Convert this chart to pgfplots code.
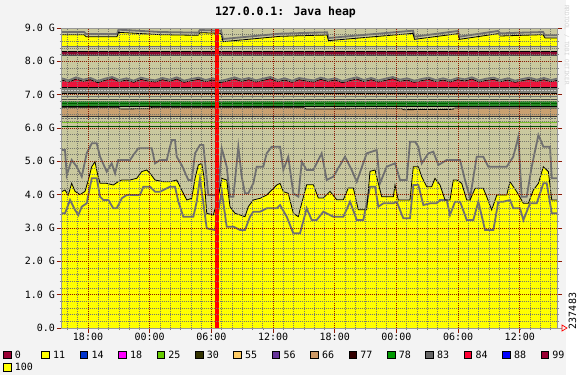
\documentclass[border=0pt]{standalone}
\usepackage{fontspec}
\setmainfont{DejaVu Sans Mono}
\usepackage{pgfplots}
\pgfplotsset{compat=1.18}
\definecolor{khaki}{RGB}{201,200,158}
\definecolor{bgc}{RGB}{243,243,243}
\definecolor{gline}{RGB}{112,112,112}
\definecolor{majgrid}{RGB}{140,25,5}
\definecolor{mingrid}{RGB}{120,120,110}
\definecolor{redband}{RGB}{235,20,60}
\definecolor{maroonb}{RGB}{140,10,50}
\definecolor{grayband}{RGB}{128,128,118}
\definecolor{greenband}{RGB}{40,140,40}
\definecolor{tanb}{RGB}{200,160,112}
\definecolor{limeb}{RGB}{120,190,40}
\definecolor{c0}{RGB}{153,0,51}
\definecolor{c11}{RGB}{255,255,0}
\definecolor{c14}{RGB}{0,51,204}
\definecolor{c18}{RGB}{255,0,255}
\definecolor{c25}{RGB}{102,204,0}
\definecolor{c30}{RGB}{51,51,0}
\definecolor{c55}{RGB}{255,204,102}
\definecolor{c56}{RGB}{102,51,153}
\definecolor{c66}{RGB}{204,153,102}
\definecolor{c77}{RGB}{51,0,0}
\definecolor{c78}{RGB}{0,153,0}
\definecolor{c83}{RGB}{102,102,102}
\definecolor{c84}{RGB}{255,0,51}
\definecolor{c88}{RGB}{0,0,255}
\definecolor{c99}{RGB}{153,0,51}
\definecolor{c100}{RGB}{255,255,0}
\newcommand{\lbl}[1]{\makebox[26.6pt][l]{#1}}
\begin{document}
\begin{tikzpicture}
\useasboundingbox (-61.7pt,-47pt) rectangle (523.3pt,328pt);
\fill[bgc] (-61.7pt,-47pt) rectangle (523.3pt,328pt);
\fill[white] (504.3pt,-47pt) rectangle (523.3pt,328pt);
\begin{axis}[
  at={(0pt,0pt)}, anchor=south west,
  scale only axis, width=495.3pt, height=300pt,
  xmin=-2.56, xmax=45.62, ymin=0, ymax=9,
  axis background/.style={fill=khaki},
  axis on top,
  axis line style={draw=gray!80, line width=0.5pt},
  xtick={0,6,12,18,24,30,36,42},
  xticklabels={18:00,00:00,06:00,12:00,18:00,00:00,06:00,12:00},
  minor xtick={-2,-1,...,45},
  ytick={0,1,2,3,4,5,6,7,8,9},
  yticklabels={0.0,1.0 G,2.0 G,3.0 G,4.0 G,5.0 G,6.0 G,7.0 G,8.0 G,9.0 G},
  minor ytick={0.2,0.4,...,8.9},
  grid=both,
  minor grid style={draw=mingrid, line width=0.6pt, dash pattern=on 1pt off 1pt},
  major grid style={draw=majgrid, line width=0.7pt, dash pattern=on 1pt off 1pt},
  tick align=outside,
  major tick length=5pt, minor tick length=2pt,
  major tick style={draw=majgrid, line width=0.8pt, solid},
  minor tick style={draw=gray, line width=0.5pt, solid},
  xtick pos=bottom, ytick pos=both, yticklabel pos=left,
  tick label style={font=\fontsize{10}{12}\selectfont, inner sep=0pt},
  yticklabel style={xshift=-1.5pt},
  legend style={at={(-0.1185,-0.075)}, anchor=north west, draw=none, fill=none,
    inner sep=0pt, outer sep=0pt, column sep=0pt, row sep=4.2pt,
    font=\fontsize{10}{12}\selectfont,
    nodes={inner sep=0pt, outer sep=0pt, text height=7.5pt, text depth=1pt}},
  legend columns=15,
  legend cell align=left,
  legend image code/.code={\draw[#1, draw=black, line width=0.6pt] (0pt,-3.6pt) rectangle (7.5pt,3.9pt); \path[draw=none, fill=none] (0pt,0pt) -- (11.5pt,0pt);},
]
% --- upper bands (painter order, each filled down to 0) ---
\addplot[fill=c11, draw=none, forget plot] coordinates {(-2.56,8.80)(-0.39,8.80)(-0.19,8.74)(2.82,8.74)(2.97,8.87)(7.00,8.80)(10.70,8.78)(10.89,8.86)(12.94,8.84)(13.13,8.59)(18.68,8.75)(23.25,8.79)(23.39,8.62)(31.61,8.84)(31.76,8.66)(35.99,8.83)(36.14,8.66)(39.88,8.83)(40.08,8.76)(44.26,8.80)(44.46,8.70)(45.62,8.70)} \closedcycle;
\addplot[fill=khaki, draw=none, forget plot] coordinates {(-2.56,8.445)(45.62,8.445)} \closedcycle;
\addplot[fill=maroonb, draw=none, forget plot] coordinates {(-2.56,8.31)(45.62,8.31)} \closedcycle;
\addplot[fill=khaki, draw=none, forget plot] coordinates {(-2.56,8.19)(45.62,8.19)} \closedcycle;
\addplot[fill=redband, draw=none, forget plot] coordinates {(-2.56,7.44)(-1.86,7.38)(-1.16,7.47)(-0.46,7.40)(0.24,7.45)(0.94,7.36)(1.64,7.43)(2.34,7.48)(3.04,7.39)(3.74,7.44)(4.44,7.37)(5.14,7.46)(5.84,7.41)(6.54,7.38)(7.24,7.45)(7.94,7.40)(8.64,7.47)(9.34,7.37)(10.04,7.42)(10.74,7.46)(11.44,7.39)(12.14,7.44)(12.84,7.36)(13.54,7.41)(14.24,7.47)(14.94,7.40)(15.64,7.45)(16.34,7.38)(17.04,7.43)(17.74,7.48)(18.44,7.39)(19.14,7.44)(19.84,7.37)(20.54,7.45)(21.24,7.41)(21.94,7.38)(22.64,7.46)(23.34,7.40)(24.04,7.44)(24.74,7.36)(25.44,7.42)(26.14,7.47)(26.84,7.39)(27.54,7.45)(28.24,7.38)(28.94,7.43)(29.64,7.48)(30.34,7.40)(31.04,7.44)(31.74,7.37)(32.44,7.42)(33.14,7.46)(33.84,7.39)(34.54,7.44)(35.24,7.38)(35.94,7.45)(36.64,7.41)(37.34,7.47)(38.04,7.38)(38.74,7.43)(39.44,7.46)(40.14,7.39)(40.84,7.44)(41.54,7.37)(42.24,7.42)(42.94,7.46)(43.64,7.40)(44.34,7.45)(45.04,7.39)(45.62,7.43)} \closedcycle;
\addplot[fill=grayband, draw=none, forget plot] coordinates {(-2.56,7.21)(45.62,7.21)} \closedcycle;
\addplot[fill=khaki, draw=none, forget plot] coordinates {(-2.56,7.04)(45.62,7.04)} \closedcycle;
\addplot[fill=greenband, draw=none, forget plot] coordinates {(-2.56,6.80)(45.62,6.80)} \closedcycle;
\addplot[fill=khaki, draw=none, forget plot] coordinates {(-2.56,6.655)(45.62,6.655)} \closedcycle;
\addplot[fill=tanb, draw=none, forget plot] coordinates {(-2.56,6.62)(3.0,6.62)(3.2,6.57)(6.0,6.58)(6.2,6.62)(21.0,6.62)(21.2,6.57)(30.5,6.58)(30.7,6.55)(35.5,6.56)(35.7,6.60)(45.62,6.60)} \closedcycle;
\addplot[fill=khaki, draw=none, forget plot] coordinates {(-2.56,6.35)(45.62,6.35)} \closedcycle;
% --- lower yellow area ---
\addplot[fill=c100, draw=none, forget plot] coordinates {(-2.56,4.09)(-2.24,4.14)(-1.92,3.99)(-1.59,4.34)(-1.26,4.10)(-0.78,4.00)(-0.29,4.10)(0.03,4.44)(0.36,4.84)(0.68,4.99)(0.91,4.64)(1.17,4.34)(1.82,4.34)(2.46,4.29)(2.95,4.39)(3.28,4.44)(4.09,4.44)(4.74,4.49)(5.22,4.69)(5.71,4.74)(6.03,4.64)(6.52,4.44)(7.33,4.39)(7.98,4.39)(8.63,4.44)(9.11,4.14)(9.60,3.84)(10.09,3.89)(10.41,4.49)(10.73,4.89)(11.06,4.94)(11.28,4.54)(11.55,3.44)(12.19,3.39)(12.68,3.94)(13.01,4.49)(13.49,4.44)(13.81,3.64)(14.30,3.44)(14.79,3.39)(15.27,3.34)(15.59,3.64)(16.08,3.84)(16.73,3.89)(17.38,3.99)(17.87,4.14)(18.36,4.29)(18.68,4.34)(19.00,4.09)(19.48,4.04)(19.97,3.44)(20.46,3.34)(20.62,3.55)(21.27,4.3)(21.92,4.3)(22.40,3.9)(22.89,3.9)(23.54,4.1)(24.19,3.85)(24.84,3.85)(25.32,4.2)(25.81,4.2)(26.29,3.55)(27.11,3.55)(27.43,4.7)(27.92,4.74)(28.24,4.34)(28.57,3.94)(29.70,3.94)(29.86,4.29)(30.18,3.84)(31.32,3.84)(31.64,4.84)(32.13,4.84)(32.46,4.54)(32.95,4.24)(33.43,4.24)(33.75,4.49)(34.24,4.29)(34.73,3.84)(35.21,3.84)(35.53,4.44)(35.87,4.44)(36.35,4.34)(36.84,3.84)(37.16,3.84)(37.65,4.19)(38.45,4.19)(38.78,3.94)(39.27,3.54)(39.76,3.99)(40.73,3.99)(41.05,4.39)(41.70,4.09)(42.35,3.74)(42.83,3.74)(43.32,4.14)(43.81,4.34)(44.29,4.84)(44.78,4.69)(45.11,3.84)(45.62,3.84)} \closedcycle;
% --- lines of the upper bands ---
\addplot[black, line width=0.8pt, forget plot] coordinates {(-2.56,8.98)(45.62,8.98)};
\addplot[gline, line width=1.8pt, forget plot] coordinates {(-2.56,8.88)(-0.39,8.88)(-0.19,8.82)(2.82,8.82)(2.97,8.95)(7.00,8.88)(10.70,8.86)(10.89,8.94)(12.94,8.92)(13.13,8.67)(18.68,8.83)(23.25,8.87)(23.39,8.70)(31.61,8.92)(31.76,8.74)(35.99,8.91)(36.14,8.74)(39.88,8.91)(40.08,8.84)(44.26,8.88)(44.46,8.78)(45.62,8.78)};
\addplot[black, line width=0.8pt, forget plot] coordinates {(-2.56,8.80)(-0.39,8.80)(-0.19,8.74)(2.82,8.74)(2.97,8.87)(7.00,8.80)(10.70,8.78)(10.89,8.86)(12.94,8.84)(13.13,8.59)(18.68,8.75)(23.25,8.79)(23.39,8.62)(31.61,8.84)(31.76,8.66)(35.99,8.83)(36.14,8.66)(39.88,8.83)(40.08,8.76)(44.26,8.80)(44.46,8.70)(45.62,8.70)};
\addplot[gline, line width=1.2pt, forget plot] coordinates {(-2.56,8.445)(45.62,8.445)};
\addplot[black, line width=0.8pt, forget plot] coordinates {(-2.56,8.31)(45.62,8.31)};
\addplot[black!70, line width=0.8pt, forget plot] coordinates {(-2.56,8.19)(45.62,8.19)};
\addplot[gline, line width=1.8pt, forget plot] coordinates {(-2.56,7.49)(-1.86,7.43)(-1.16,7.52)(-0.46,7.45)(0.24,7.50)(0.94,7.41)(1.64,7.48)(2.34,7.53)(3.04,7.44)(3.74,7.49)(4.44,7.42)(5.14,7.51)(5.84,7.46)(6.54,7.43)(7.24,7.50)(7.94,7.45)(8.64,7.52)(9.34,7.42)(10.04,7.47)(10.74,7.51)(11.44,7.44)(12.14,7.49)(12.84,7.41)(13.54,7.46)(14.24,7.52)(14.94,7.45)(15.64,7.50)(16.34,7.43)(17.04,7.48)(17.74,7.53)(18.44,7.44)(19.14,7.49)(19.84,7.42)(20.54,7.50)(21.24,7.46)(21.94,7.43)(22.64,7.51)(23.34,7.45)(24.04,7.49)(24.74,7.41)(25.44,7.47)(26.14,7.52)(26.84,7.44)(27.54,7.50)(28.24,7.43)(28.94,7.48)(29.64,7.53)(30.34,7.45)(31.04,7.49)(31.74,7.42)(32.44,7.47)(33.14,7.51)(33.84,7.44)(34.54,7.49)(35.24,7.43)(35.94,7.50)(36.64,7.46)(37.34,7.52)(38.04,7.43)(38.74,7.48)(39.44,7.51)(40.14,7.44)(40.84,7.49)(41.54,7.42)(42.24,7.47)(42.94,7.51)(43.64,7.45)(44.34,7.50)(45.04,7.44)(45.62,7.48)};
\addplot[black, line width=0.7pt, forget plot] coordinates {(-2.56,7.44)(-1.86,7.38)(-1.16,7.47)(-0.46,7.40)(0.24,7.45)(0.94,7.36)(1.64,7.43)(2.34,7.48)(3.04,7.39)(3.74,7.44)(4.44,7.37)(5.14,7.46)(5.84,7.41)(6.54,7.38)(7.24,7.45)(7.94,7.40)(8.64,7.47)(9.34,7.37)(10.04,7.42)(10.74,7.46)(11.44,7.39)(12.14,7.44)(12.84,7.36)(13.54,7.41)(14.24,7.47)(14.94,7.40)(15.64,7.45)(16.34,7.38)(17.04,7.43)(17.74,7.48)(18.44,7.39)(19.14,7.44)(19.84,7.37)(20.54,7.45)(21.24,7.41)(21.94,7.38)(22.64,7.46)(23.34,7.40)(24.04,7.44)(24.74,7.36)(25.44,7.42)(26.14,7.47)(26.84,7.39)(27.54,7.45)(28.24,7.38)(28.94,7.43)(29.64,7.48)(30.34,7.40)(31.04,7.44)(31.74,7.37)(32.44,7.42)(33.14,7.46)(33.84,7.39)(34.54,7.44)(35.24,7.38)(35.94,7.45)(36.64,7.41)(37.34,7.47)(38.04,7.38)(38.74,7.43)(39.44,7.46)(40.14,7.39)(40.84,7.44)(41.54,7.37)(42.24,7.42)(42.94,7.46)(43.64,7.40)(44.34,7.45)(45.04,7.39)(45.62,7.43)};
\addplot[black, line width=0.8pt, forget plot] coordinates {(-2.56,7.215)(45.62,7.215)};
\addplot[gray!40, line width=0.6pt, dash pattern=on 2pt off 1pt, forget plot] coordinates {(-2.56,7.125)(45.62,7.125)};
\addplot[black, line width=0.8pt, forget plot] coordinates {(-2.56,7.04)(45.62,7.04)};
\addplot[gline, line width=1.5pt, forget plot] coordinates {(-2.56,6.95)(45.62,6.95)};
\addplot[black!70, line width=0.8pt, forget plot] coordinates {(-2.56,6.86)(45.62,6.86)};
\addplot[green!35!black, line width=0.8pt, forget plot] coordinates {(-2.56,6.73)(45.62,6.73)};
\addplot[black, line width=0.8pt, forget plot] coordinates {(-2.56,6.655)(45.62,6.655)};
\addplot[black, line width=0.8pt, forget plot] coordinates {(-2.56,6.62)(3.0,6.62)(3.2,6.57)(6.0,6.58)(6.2,6.62)(21.0,6.62)(21.2,6.57)(30.5,6.58)(30.7,6.55)(35.5,6.56)(35.7,6.60)(45.62,6.60)};
\addplot[black!80, line width=0.8pt, forget plot] coordinates {(-2.56,6.35)(45.62,6.35)};
\addplot[gline, line width=0.8pt, dash pattern=on 2pt off 1pt, forget plot] coordinates {(-2.56,6.29)(45.62,6.29)};
\addplot[limeb, line width=1.6pt, forget plot] coordinates {(-2.56,6.16)(45.62,6.16)};
\addplot[green!30!black, line width=0.7pt, forget plot] coordinates {(-2.56,6.04)(45.62,6.04)};
% --- lower lines ---
\addplot[gline, line width=1.8pt, forget plot] coordinates {(-2.56,5.34)(-2.24,5.34)(-2.07,4.59)(-1.59,5.04)(-1.10,4.84)(-0.61,4.54)(-0.13,5.24)(0.36,5.54)(0.85,5.54)(1.17,5.14)(1.82,4.69)(2.30,4.94)(2.63,4.64)(2.95,5.04)(4.09,5.04)(4.41,5.19)(4.90,5.39)(6.20,5.39)(6.52,4.94)(7.00,5.04)(7.66,5.04)(8.14,5.64)(8.46,5.64)(8.63,5.14)(9.11,4.89)(9.76,4.44)(10.09,4.44)(10.41,5.24)(10.89,5.49)(11.22,5.49)(11.38,4.99)(11.70,3.99)(12.35,3.99)(12.68,4.09)(13.01,5.39)(13.49,4.84)(13.81,3.94)(14.14,3.94)(14.62,5.44)(14.95,4.54)(15.27,4.04)(15.59,4.04)(16.08,4.34)(16.41,4.84)(17.05,4.84)(17.38,5.24)(17.87,5.44)(18.68,5.44)(19.00,4.74)(19.48,5.14)(19.97,4.04)(20.46,3.94)(20.79,4.99)(21.27,4.74)(21.92,4.74)(22.73,5.24)(23.22,4.44)(23.86,4.54)(25.00,5.14)(25.65,4.74)(26.14,4.39)(27.11,5.24)(28.08,5.34)(28.40,4.34)(29.06,4.84)(29.86,4.94)(30.35,4.44)(31.00,4.44)(31.32,5.59)(31.81,5.59)(32.13,5.44)(32.46,4.94)(33.11,5.24)(33.59,5.29)(34.08,4.89)(34.89,5.04)(36.19,5.04)(36.67,4.44)(37.16,3.9)(37.81,5.14)(38.45,5.14)(38.94,4.84)(40.73,4.84)(41.37,5.14)(41.86,5.74)(42.18,3.94)(42.67,3.94)(43.16,4.84)(43.81,5.79)(44.29,5.44)(44.94,5.44)(45.11,4.49)(45.62,4.49)};
\addplot[gline, line width=1.8pt, forget plot] coordinates {(-2.56,3.44)(-2.24,3.44)(-1.75,3.84)(-1.26,3.54)(-0.94,3.39)(-0.61,3.64)(-0.13,3.74)(0.36,4.49)(0.85,4.49)(1.17,3.94)(1.49,3.84)(1.98,3.84)(2.46,3.59)(2.79,3.59)(3.28,3.89)(3.76,3.99)(5.06,3.99)(5.38,4.24)(6.03,4.24)(6.52,4.09)(7.00,4.09)(7.98,4.24)(8.46,4.24)(8.79,3.79)(9.27,3.34)(10.25,3.34)(10.57,3.79)(10.89,4.49)(11.22,3.74)(11.55,2.99)(12.35,2.94)(13.01,4.09)(13.49,3.04)(14.14,3.04)(14.79,2.94)(15.27,2.94)(15.76,3.34)(16.08,3.49)(16.73,3.49)(17.38,3.59)(18.36,3.59)(18.68,3.69)(19.33,3.34)(19.97,2.84)(20.62,2.84)(21.27,3.59)(21.76,3.24)(22.24,3.24)(22.89,3.49)(23.86,3.34)(24.84,3.34)(25.49,3.79)(26.14,3.24)(26.78,3.24)(27.43,4.24)(27.92,4.24)(28.24,3.64)(28.73,3.74)(29.70,3.74)(30.03,3.79)(30.67,3.29)(31.32,3.29)(31.64,4.29)(32.13,4.29)(32.62,3.69)(33.27,3.74)(33.92,3.74)(34.24,3.84)(34.89,3.84)(35.21,3.39)(35.70,3.79)(36.19,3.79)(36.84,3.24)(37.48,3.24)(37.97,3.79)(38.62,2.94)(39.43,2.94)(39.91,3.79)(40.40,3.79)(41.05,3.84)(41.37,3.59)(42.02,3.59)(42.35,3.24)(43.00,3.74)(43.65,3.74)(44.29,4.34)(44.62,4.34)(45.11,3.44)(45.62,3.44)};
\addplot[black, line width=0.8pt, forget plot] coordinates {(-2.56,4.09)(-2.24,4.14)(-1.92,3.99)(-1.59,4.34)(-1.26,4.10)(-0.78,4.00)(-0.29,4.10)(0.03,4.44)(0.36,4.84)(0.68,4.99)(0.91,4.64)(1.17,4.34)(1.82,4.34)(2.46,4.29)(2.95,4.39)(3.28,4.44)(4.09,4.44)(4.74,4.49)(5.22,4.69)(5.71,4.74)(6.03,4.64)(6.52,4.44)(7.33,4.39)(7.98,4.39)(8.63,4.44)(9.11,4.14)(9.60,3.84)(10.09,3.89)(10.41,4.49)(10.73,4.89)(11.06,4.94)(11.28,4.54)(11.55,3.44)(12.19,3.39)(12.68,3.94)(13.01,4.49)(13.49,4.44)(13.81,3.64)(14.30,3.44)(14.79,3.39)(15.27,3.34)(15.59,3.64)(16.08,3.84)(16.73,3.89)(17.38,3.99)(17.87,4.14)(18.36,4.29)(18.68,4.34)(19.00,4.09)(19.48,4.04)(19.97,3.44)(20.46,3.34)(20.62,3.55)(21.27,4.3)(21.92,4.3)(22.40,3.9)(22.89,3.9)(23.54,4.1)(24.19,3.85)(24.84,3.85)(25.32,4.2)(25.81,4.2)(26.29,3.55)(27.11,3.55)(27.43,4.7)(27.92,4.74)(28.24,4.34)(28.57,3.94)(29.70,3.94)(29.86,4.29)(30.18,3.84)(31.32,3.84)(31.64,4.84)(32.13,4.84)(32.46,4.54)(32.95,4.24)(33.43,4.24)(33.75,4.49)(34.24,4.29)(34.73,3.84)(35.21,3.84)(35.53,4.44)(35.87,4.44)(36.35,4.34)(36.84,3.84)(37.16,3.84)(37.65,4.19)(38.45,4.19)(38.78,3.94)(39.27,3.54)(39.76,3.99)(40.73,3.99)(41.05,4.39)(41.70,4.09)(42.35,3.74)(42.83,3.74)(43.32,4.14)(43.81,4.34)(44.29,4.84)(44.78,4.69)(45.11,3.84)(45.62,3.84)};
% --- red vertical marker ---
\addplot[red, line width=3.4pt, forget plot] coordinates {(12.55,0)(12.55,9)};
% --- legend ---
\addlegendimage{fill=c0}\addlegendentry{\lbl{0}}
\addlegendimage{fill=c11}\addlegendentry{\lbl{11}}
\addlegendimage{fill=c14}\addlegendentry{\lbl{14}}
\addlegendimage{fill=c18}\addlegendentry{\lbl{18}}
\addlegendimage{fill=c25}\addlegendentry{\lbl{25}}
\addlegendimage{fill=c30}\addlegendentry{\lbl{30}}
\addlegendimage{fill=c55}\addlegendentry{\lbl{55}}
\addlegendimage{fill=c56}\addlegendentry{\lbl{56}}
\addlegendimage{fill=c66}\addlegendentry{\lbl{66}}
\addlegendimage{fill=c77}\addlegendentry{\lbl{77}}
\addlegendimage{fill=c78}\addlegendentry{\lbl{78}}
\addlegendimage{fill=c83}\addlegendentry{\lbl{83}}
\addlegendimage{fill=c84}\addlegendentry{\lbl{84}}
\addlegendimage{fill=c88}\addlegendentry{\lbl{88}}
\addlegendimage{fill=c99}\addlegendentry{\lbl{99}}
\addlegendimage{fill=c100}\addlegendentry{\lbl{100}}
\end{axis}
\node[font=\bfseries\fontsize{11.5}{13}\selectfont] at (223.8pt,316pt) {127.0.0.1: Java heap};
\node[rotate=90, font=\fontsize{10}{12}\selectfont, inner sep=0pt] at (510.8pt,17pt) {237483};
\node[rotate=-90, font=\fontsize{6}{7}\selectfont, text=gray!35, inner sep=0pt] at (505pt,283pt) {RRDTOOL / TOBI OETIKER};
\draw[gray!80, line width=0.5pt] (495.3pt,0pt) -- (500.3pt,0pt);
\draw[red, line width=0.7pt] (500.3pt,3pt) -- (505.3pt,0pt) -- (500.3pt,-3pt) -- cycle;
\end{tikzpicture}
\end{document}
